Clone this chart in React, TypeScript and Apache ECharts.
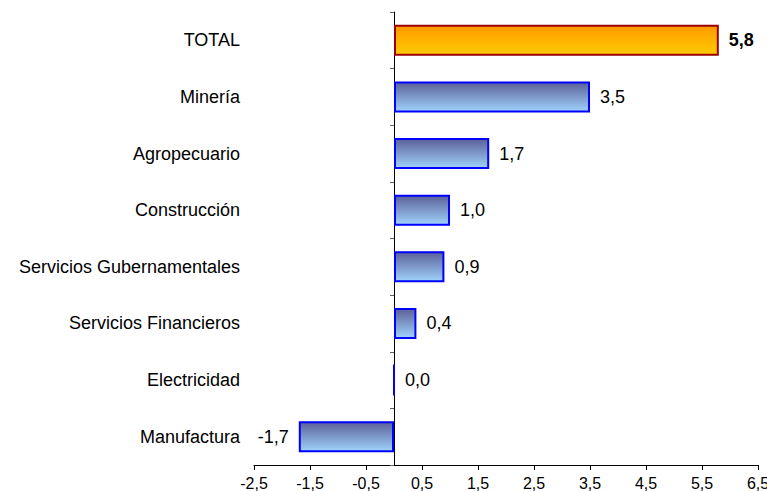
import React, { useEffect, useRef } from "react";
import * as echarts from "echarts";

const categories = [
  "TOTAL",
  "Minería",
  "Agropecuario",
  "Construcción",
  "Servicios Gubernamentales",
  "Servicios Financieros",
  "Electricidad",
  "Manufactura",
];
const values = [5.8, 3.5, 1.7, 1.0, 0.9, 0.4, 0.0, -1.7];
const highlightCategory = "TOTAL";
const xMin = -2.5;
const xMax = 6.5;
const xStep = 1;

const FONT = "'Liberation Sans', Arial, sans-serif";
const fmt = (v: number) => v.toFixed(1).replace(".", ",");

export default function App() {
  const ref = useRef<HTMLDivElement>(null);
  useEffect(() => {
    if (!ref.current) return;
    const chart = echarts.init(ref.current, undefined, { renderer: "svg" });
    const blueFill = new echarts.graphic.LinearGradient(0, 0, 0, 1, [
      { offset: 0, color: "#5b6198" },
      { offset: 1, color: "#a0d2fc" },
    ]);
    const orangeFill = new echarts.graphic.LinearGradient(0, 0, 0, 1, [
      { offset: 0, color: "#ff9900" },
      { offset: 1, color: "#ffcc00" },
    ]);
    const data = categories.map((c, i) => {
      const isTotal = c === highlightCategory;
      return {
        value: values[i],
        itemStyle: {
          color: isTotal ? orangeFill : blueFill,
          borderColor: isTotal ? "#990000" : "#0000ff",
          borderWidth: 2,
        },
        label: {
          position: values[i] < 0 ? "left" : "right",
          fontWeight: isTotal ? "bold" : "normal",
        },
      };
    });
    chart.setOption({
      animation: false,
      grid: { left: 254, right: 9, top: 12, bottom: 26, outerBoundsMode: "none" },
      xAxis: {
        type: "value",
        min: xMin,
        max: xMax,
        interval: xStep,
        splitLine: { show: false },
        axisLine: { show: true, lineStyle: { color: "#000", width: 1 } },
        axisTick: { show: true, length: 5, lineStyle: { color: "#000" } },
        axisLabel: {
          formatter: (v: number) => fmt(v),
          color: "#000",
          fontSize: 16,
          fontFamily: FONT,
          margin: 10,
          showMinLabel: true,
          showMaxLabel: true,
          hideOverlap: false,
        },
      },
      yAxis: {
        type: "category",
        data: categories,
        inverse: true,
        axisLine: { show: true, onZero: true, lineStyle: { color: "#000", width: 1 } },
        axisTick: { show: true, length: 4, lineStyle: { color: "#666" } },
        axisLabel: {
          color: "#000",
          fontSize: 18,
          fontFamily: FONT,
          margin: 14,
        },
      },
      series: [
        {
          type: "bar",
          data,
          barWidth: 31,
          label: {
            show: true,
            distance: 10,
            color: "#000",
            fontSize: 18,
            fontFamily: FONT,
            formatter: (p: any) => fmt(p.value),
          },
        },
      ],
    });
    return () => chart.dispose();
  }, []);
  return <div ref={ref} style={{ width: 767, height: 491, position: "absolute", left: 0, top: 0 }} />;
}
